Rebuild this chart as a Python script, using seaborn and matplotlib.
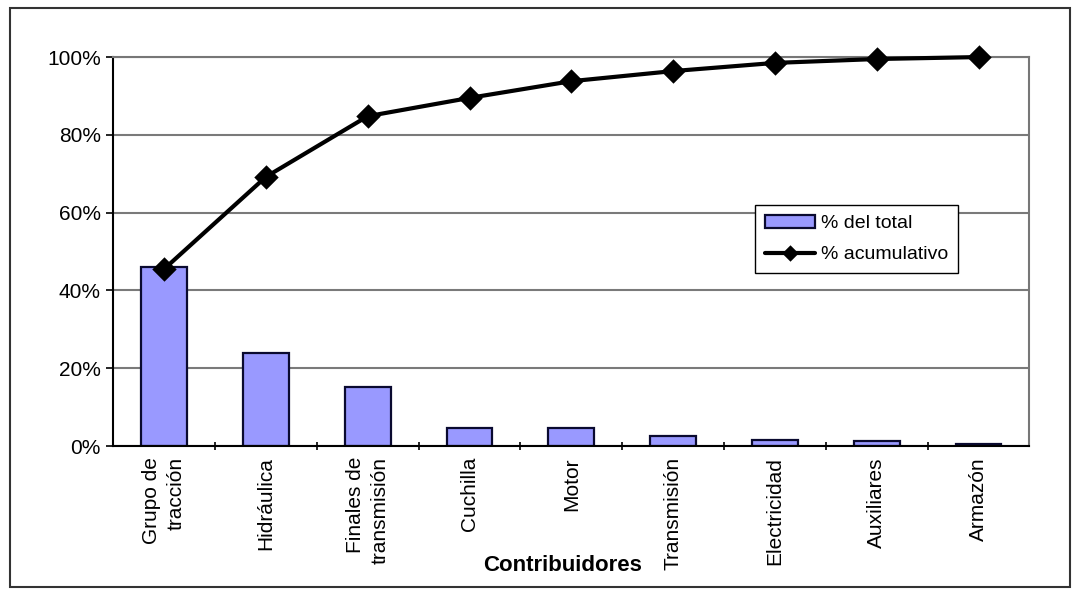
import numpy as np
import pandas as pd
import matplotlib
matplotlib.use("Agg")
import matplotlib.pyplot as plt
import seaborn as sns
from matplotlib.ticker import PercentFormatter, FixedLocator
from matplotlib.patches import Rectangle

# datos del diagrama de Pareto
contribuidores = ["Grupo de\ntracción", "Hidráulica", "Finales de\ntransmisión", "Cuchilla",
                  "Motor", "Transmisión", "Electricidad", "Auxiliares", "Armazón"]
pct_total = [46.0, 23.8, 15.2, 4.6, 4.6, 2.6, 1.5, 1.2, 0.5]
pct_acumulativo = [45.5, 69.2, 84.8, 89.5, 93.8, 96.4, 98.5, 99.5, 100.0]
y_ticks = [0, 20, 40, 60, 80, 100]

df = pd.DataFrame({"Contribuidores": contribuidores,
                   "total": pct_total,
                   "acum": pct_acumulativo})

sns.set_style("white")
plt.rcParams["font.family"] = ["Liberation Sans", "DejaVu Sans"]
plt.rcParams["text.color"] = "black"
plt.rcParams["xtick.color"] = "black"
plt.rcParams["ytick.color"] = "black"
plt.rcParams["axes.labelcolor"] = "black"

fig = plt.figure(figsize=(10.78, 5.92), dpi=100)
ax = fig.add_axes([0.105, 0.2466, 0.850, 0.657])

sns.barplot(data=df, x="Contribuidores", y="total", color="#9999ff", saturation=1,
            width=0.45, edgecolor="#0a0a30", linewidth=1.6, ax=ax, label="% del total", zorder=2)
sns.pointplot(data=df, x="Contribuidores", y="acum", color="black", markers="D",
              markersize=10.5, linewidth=3, ax=ax, label="% acumulativo", zorder=3)
for ln in ax.lines:
    ln.set_clip_on(False)

ax.set_ylim(0, 100)
ax.set_xlim(-0.5, len(contribuidores) - 0.5)
ax.yaxis.set_major_locator(FixedLocator(y_ticks))
ax.yaxis.set_major_formatter(PercentFormatter(xmax=100, decimals=0))
ax.grid(axis="y", color="#7a7a7a", linewidth=1.5, zorder=0)
ax.set_axisbelow(True)

for s in ["top", "right"]:
    ax.spines[s].set_color("#777777")
    ax.spines[s].set_linewidth(1.5)
for s in ["left", "bottom"]:
    ax.spines[s].set_color("black")
    ax.spines[s].set_linewidth(1.5)

ax.tick_params(axis="y", length=5, width=1.2, color="black", labelsize=15, pad=4, left=True)
ax.tick_params(axis="x", which="major", length=0, labelsize=15, pad=8)
ax.xaxis.set_minor_locator(FixedLocator(np.arange(0.5, len(contribuidores) - 1, 1)))
ax.tick_params(axis="x", which="minor", length=6, width=1.2, color="black", direction="inout", bottom=True)
for lab in ax.get_xticklabels():
    lab.set_rotation(90)
    lab.set_multialignment("right")
    lab.set_linespacing(1.4)

ax.set_ylabel("")
ax.set_xlabel("Contribuidores", fontsize=16, fontweight="bold")
ax.xaxis.set_label_coords(0.49, -0.306)
ax.xaxis.label.set_va("center")

handles, labels = ax.get_legend_handles_labels()
orden = [labels.index("% del total"), labels.index("% acumulativo")]
leg = ax.legend([handles[i] for i in orden], [labels[i] for i in orden],
                loc="upper left", bbox_to_anchor=(0.69, 0.645), fontsize=14,
                frameon=True, fancybox=False, framealpha=1, edgecolor="black",
                handlelength=2.6, borderpad=0.5, labelspacing=0.7, handletextpad=0.3,
                markerscale=0.6)
leg.get_frame().set_linewidth(1.0)

# marco exterior del grafico
fig.patches.append(Rectangle((0.009, 0.008), 0.984, 0.978, transform=fig.transFigure,
                             fill=False, edgecolor="#333333", linewidth=1.5))

fig.savefig("out.png", dpi=100)
